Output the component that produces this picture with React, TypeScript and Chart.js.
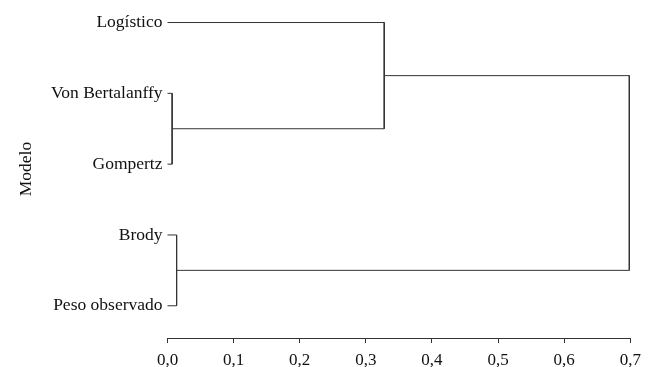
import React, { useEffect, useRef } from "react";
import { Chart, registerables } from "chart.js";

Chart.register(...registerables);

// Leaves in display order (top to bottom)
const leafLabels = ["Logístico", "Von Bertalanffy", "Gompertz", "Brody", "Peso observado"];
// Merges: [left child, right child, height]; positive = leaf index (1-based), negative = earlier merge (1-based)
const mergeLeft = [2, 4, 1, -3];
const mergeRight = [3, 5, -1, -2];
const mergeHeight = [0.0070, 0.0138, 0.3278, 0.6985];
const xTicks = [0, 0.1, 0.2, 0.3, 0.4, 0.5, 0.6, 0.7];

const FONT = "'Liberation Serif', 'Times New Roman', serif";
const LINE = "#333333";

function buildSegments() {
  const nodeY: number[] = [];
  const nodeH: number[] = [];
  const pos = (ref: number) =>
    ref > 0 ? { y: ref, h: 0 } : { y: nodeY[-ref - 1], h: nodeH[-ref - 1] };
  const sets: any[] = [];
  for (let i = 0; i < mergeHeight.length; i++) {
    const a = pos(mergeLeft[i]);
    const b = pos(mergeRight[i]);
    const H = mergeHeight[i];
    nodeY.push((a.y + b.y) / 2);
    nodeH.push(H);
    sets.push({
      data: [
        { x: a.h, y: a.y },
        { x: H, y: a.y },
        { x: H, y: b.y },
        { x: b.h, y: b.y },
      ],
      showLine: true,
      borderColor: LINE,
      borderWidth: 1,
      pointRadius: 0,
      fill: false,
      tension: 0,
      clip: false,
    });
  }
  return sets;
}

export default function App() {
  const ref = useRef<HTMLCanvasElement>(null);
  useEffect(() => {
    document.body.style.margin = "0";
    const chart = new Chart(ref.current!, {
      type: "scatter",
      data: { datasets: buildSegments() },
      options: {
        animation: false,
        responsive: false,
        layout: { padding: { top: 0, right: 21.7, bottom: 0, left: 0 } },
        plugins: { legend: { display: false }, tooltip: { enabled: false } },
        scales: {
          x: {
            type: "linear",
            min: 0,
            max: 0.7,
            afterBuildTicks: (s: any) => {
              s.ticks = xTicks.map((v) => ({ value: v }));
            },
            afterFit: (s: any) => {
              s.height = 29;
            },
            border: { display: true, color: LINE, width: 1 },
            grid: { drawOnChartArea: false, drawTicks: true, tickLength: 5, color: LINE },
            ticks: {
              padding: 7,
              color: "#111",
              font: { family: FONT, size: 17 },
              maxRotation: 0,
              callback: (v: any) => Number(v).toFixed(1).replace(".", ","),
            },
          },
          y: {
            type: "linear",
            reverse: true,
            min: 0.682,
            max: 5.455,
            afterBuildTicks: (s: any) => {
              s.ticks = leafLabels.map((_, i) => ({ value: i + 1 }));
            },
            afterFit: (s: any) => {
              s.width = 167.5;
              s.paddingTop = 0;
              s.paddingBottom = 0;
            },
            border: { display: false },
            grid: { display: false, drawTicks: false },
            ticks: {
              padding: 5,
              color: "#111",
              font: { family: FONT, size: 17.5 },
              callback: (v: any) => leafLabels[Math.round(Number(v)) - 1] ?? "",
            },
            title: {
              display: true,
              text: "Modelo",
              color: "#111",
              font: { family: FONT, size: 17.5 },
              padding: { top: 16, bottom: 0 },
            },
          },
        },
      },
    });
    return () => chart.destroy();
  }, []);
  return <canvas ref={ref} width={652} height={367} />;
}
